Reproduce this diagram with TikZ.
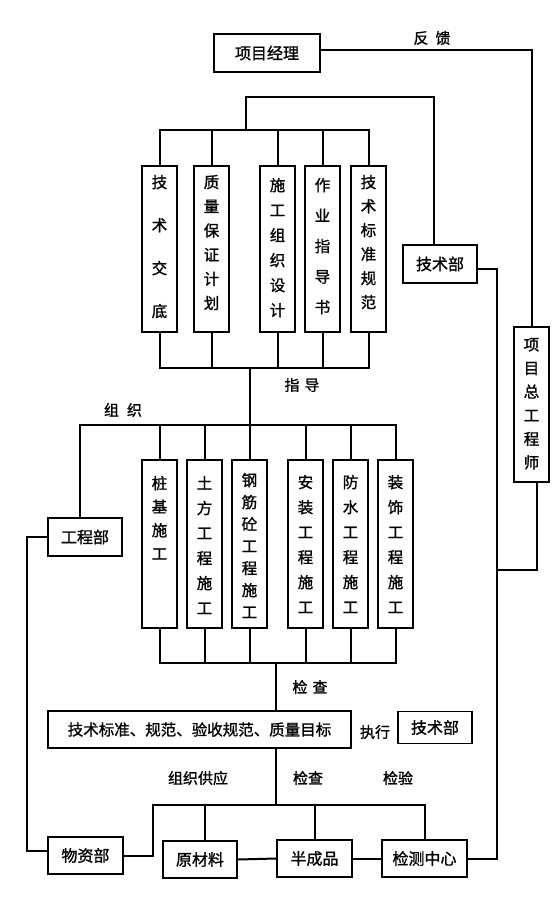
\documentclass[tikz,border=0pt]{standalone}
\usepackage{fontspec}
\setmainfont{Noto Sans CJK SC}[FakeBold=1.2]
\tikzset{
  box/.style={draw, line width=1.5pt, inner sep=0pt, font=\fontsize{16}{18}\selectfont},
  conn/.style={line width=2pt},
  lbl/.style={inner sep=0pt, font=\fontsize{15}{17}\selectfont}
}
\newcommand{\vbx}[5]{\parbox[c][#2pt][t]{#1pt}{\centering\fontsize{15.5}{#3pt}\selectfont\vspace*{#4pt}#5}}
\begin{document}
\begin{tikzpicture}[x=1pt,y=-1pt]
\useasboundingbox[fill=white] (0,0) rectangle (555,904);
% top
\node[box, minimum width=106pt, minimum height=38pt] (pm) at (267,53) {项目经理};
\node[lbl] (fk) at (432,38) {反\hspace{7pt}馈};
\node[box] (t1) at (159.5,249) {\vbx{35}{166}{43}{9}{技\\术\\交\\底}};
\node[box] (t2) at (211.5,249) {\vbx{35}{166}{24.2}{9}{质\\量\\保\\证\\计\\划}};
\node[box] (t3) at (277.5,249) {\vbx{35}{166}{25}{12}{施\\工\\组\\织\\设\\计}};
\node[box] (t4) at (322.5,249) {\vbx{35}{166}{30.5}{12}{作\\业\\指\\导\\书}};
\node[box] (t5) at (368.5,249) {\vbx{35}{166}{24}{9}{技\\术\\标\\准\\规\\范}};
\node[box, minimum width=74pt, minimum height=38pt] (tj1) at (440,264) {技术部};
\node[box] (zg) at (531.5,404.5) {\vbx{35}{155}{23.6}{11}{项\\目\\总\\工\\程\\师}};
\node[lbl] (zd) at (302,385) {指\hspace{5pt}导};
\node[lbl] (zz) at (123,410) {组\hspace{8pt}织};
% middle
\node[box, minimum width=74pt, minimum height=38pt] (gcb) at (85,537) {工程部};
\node[box] (b1) at (159.5,544) {\vbx{35}{168}{23.5}{16}{桩\\基\\施\\工}};
\node[box] (b2) at (204.5,544) {\vbx{35}{168}{25}{16}{土\\方\\工\\程\\施\\工}};
\node[box] (b3) at (249.5,544) {\vbx{35}{168}{22}{13}{钢\\筋\\砼\\工\\程\\施\\工}};
\node[box] (b4) at (305.5,544) {\vbx{35}{168}{25}{15}{安\\装\\工\\程\\施\\工}};
\node[box] (b5) at (350.5,544) {\vbx{35}{168}{25}{15}{防\\水\\工\\程\\施\\工}};
\node[box] (b6) at (395.5,544) {\vbx{35}{168}{25}{15}{装\\饰\\工\\程\\施\\工}};
\node[lbl] (jc1) at (310,687) {检\hspace{5pt}查};
\node[box, minimum width=303pt, minimum height=37pt, font=\fontsize{15.5}{17}\selectfont] (std) at (199.5,729.5) {技术标准、规范、验收规范、质量目标};
\node[lbl] (zx) at (375,732) {执行};
\node[box, minimum width=74pt, minimum height=32pt] (tj2) at (435,727.5) {技术部};
% bottom
\node[lbl] (zzgy) at (198,778) {组织供应};
\node[lbl] (jc2) at (308,778) {检查};
\node[lbl] (jy) at (398,778) {检验};
\node[box, minimum width=75pt, minimum height=37pt] (wz) at (85.5,855.5) {物资部};
\node[box, minimum width=74pt, minimum height=37pt] (yl) at (200,859.5) {原材料};
\node[box, minimum width=75pt, minimum height=37pt] (bcp) at (314.5,858.5) {半成品};
\node[box, minimum width=85pt, minimum height=37pt] (jc) at (424.5,858.5) {检测中心};
% connectors top
\draw[conn] ([yshift=3pt]pm.east) -| (zg.north);
\coordinate (tb) at (246,130);
\draw[conn] (t1.north) |- (t5.north |- tb) -- (t5.north);
\foreach \n in {t2,t3,t4} \draw[conn] (\n.north) -- (\n.north |- tb);
\draw[conn] (tb) -- (246,97) -| ([xshift=-6pt]tj1.north);
\coordinate (bb) at (250,368);
\draw[conn] (t1.south) |- (t5.south |- bb) -- (t5.south);
\foreach \n in {t2,t3,t4} \draw[conn] (\n.south) -- (\n.south |- bb);
\coordinate (mb) at (250,425);
\draw[conn] (bb) -- (mb);
\draw[conn] ([xshift=-5pt]gcb.north) |- (b6.north |- mb) -- (b6.north);
\foreach \n in {b1,b2,b3,b4,b5} \draw[conn] (\n.north) -- (\n.north |- mb);
\coordinate (lb) at (276,663);
\draw[conn] (b1.south) |- (b6.south |- lb) -- (b6.south);
\foreach \n in {b2,b3,b4,b5} \draw[conn] (\n.south) -- (\n.south |- lb);
\draw[conn] (lb) -- (lb |- std.north);
\coordinate (sb) at (276,805);
\coordinate (sl) at (153,805);
\draw[conn] (std.south -| sb) -- (sb);
\draw[conn] (wz.east) -| (sl) -- (jc.north |- sl) -- (jc.north);
\draw[conn] ([xshift=5pt]yl.north) -- ([xshift=5pt]yl.north |- sl);
\draw[conn] (bcp.north) -- (bcp.north |- sl);
\draw[conn] (yl.east) -- (bcp.west);
\draw[conn] (bcp.east) -- (jc.west);
\draw[conn] ([yshift=5pt]wz.west) -- ++(-20,0) |- (gcb.west);
\coordinate (r1) at (497,570);
\draw[conn] ([yshift=-5pt]tj1.east) -| (r1) |- (jc.east);
\draw[conn] ([xshift=5pt]zg.south) |- (r1);
\end{tikzpicture}
\end{document}
